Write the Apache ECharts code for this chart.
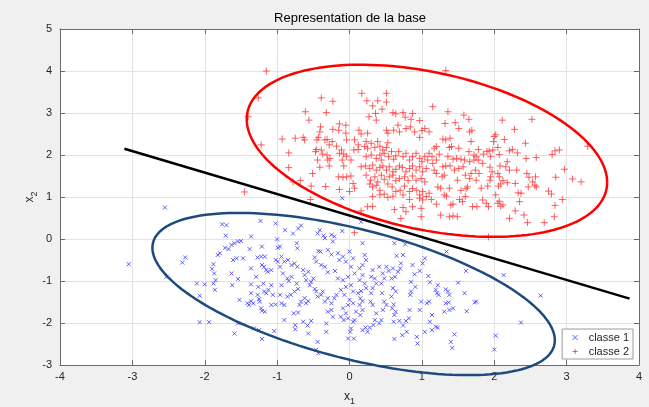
<!DOCTYPE html>
<html><head><meta charset="utf-8">
<script src="https://cdn.jsdelivr.net/npm/echarts@6/dist/echarts.min.js"></script>
<style>html,body{margin:0;padding:0;background:#f0f0f0}#c{width:649px;height:407px}</style>
</head><body><div id="c"></div>
<script>
const titleText = 'Representation de la base';
const legendNames = ['classe 1', 'classe 2'];
const xTicks = [-4, 4, 1];
const yTicks = [-3, 5, 1];

// classe 1 (blue x)
const class1 = [
[-2.55,0.75],[-3.05,-0.60],[-2.31,-0.56],[-2.27,-0.44],[-2.53,-0.90],[-2.11,-1.06],[-2.0,-1.08],[-2.07,-1.35],[-2.07,-1.98],[-1.94,-1.98],
[-1.86,-1.21],[-1.88,-1.06],[-1.85,-0.98],[-1.87,-0.82],[-1.90,-0.71],[-1.88,-0.60],[-1.82,-0.38],[-1.79,-0.34],[-1.72,-0.21],[-1.67,-0.24],
[-1.63,-0.14],[-1.59,-0.10],[-1.54,-0.06],[-1.50,-0.05],[-1.76,0.35],[-1.70,0.33],[-1.71,0.08],[-1.63,-0.82],[-1.61,-0.50],[-1.56,-0.46],
[-1.62,-1.10],[-1.54,-0.95],[-1.52,-1.45],[-1.54,-2.01],[-1.59,-2.25],[-1.47,-0.46],[-1.38,-0.24],[-1.36,0.06],[-1.36,-0.70],[-1.36,-1.08],
[-1.36,-1.29],[-1.33,-1.53],[-1.41,-1.53],[-1.39,-1.57],[-1.36,-1.48],[-1.29,-0.90],[-1.26,-1.14],[-1.27,-1.33],[-1.24,-1.49],[-1.22,-1.65],
[-1.25,-1.43],[-1.27,-0.44],[-1.22,-0.42],[-1.17,-0.42],[-1.21,-0.62],[-1.18,-0.66],[-1.15,-0.74],[-1.13,-0.78],[-1.08,-0.74],[-1.21,-0.18],
[-1.23,0.43],[-1.19,-1.06],[-1.18,-1.25],[-1.15,-1.29],[-1.12,-1.21],[-1.08,-1.10],[-1.06,-1.33],[-1.02,-1.56],[-1.08,-1.57],[-1.17,-1.73],
[-1.21,-1.71],[-1.32,-2.13],[-1.25,-2.17],[-1.21,-2.38],[-1.04,-2.19],[-1.02,0.37],[-1.00,-0.01],[-0.99,-0.21],[-0.96,-0.18],[-1.02,-0.50],
[-0.99,-0.54],[-0.96,-0.66],[-0.94,-0.42],[-0.90,-0.54],[-0.85,-0.50],[-0.80,-0.62],[-0.76,-0.58],[-0.72,-0.66],[-0.89,0.21],[-0.78,0.13],
[-0.67,0.32],[-0.73,-0.10],[-0.72,-0.22],[-0.92,-0.82],[-0.86,-0.94],[-0.84,-1.00],[-0.80,-0.90],[-0.73,-1.06],[-0.71,-1.19],[-0.76,-1.25],
[-0.81,-1.33],[-0.86,-1.37],[-0.94,-1.10],[-0.96,-1.33],[-0.94,-1.53],[-0.90,-1.57],[-0.90,-1.93],[-0.75,-2.05],[-0.75,-2.15],[-0.77,-1.77],
[-0.71,-1.75],[-0.69,-1.57],[-0.67,-1.49],[-0.62,-1.41],[-0.60,-1.53],[-0.57,-1.48],[-0.64,-0.74],[-0.62,-0.86],[-0.60,-0.98],[-0.57,-0.78],
[-0.55,-1.10],[-0.53,-1.02],[-0.50,-0.94],[-0.48,-1.19],[-0.46,-1.25],[-0.44,-1.37],[-0.39,-1.33],[-0.37,-1.25],[-0.34,-1.49],[-0.30,-1.41],
[-0.25,-1.53],[-0.21,-1.41],[-0.18,-1.33],[-0.64,-1.97],[-0.58,-2.06],[-0.57,-2.25],[-0.53,-1.95],[-0.44,0.13],[-0.41,0.21],[-0.36,0.08],
[-0.34,0.02],[-0.25,0.10],[-0.21,0.06],[-0.23,-0.06],[-0.43,-0.29],[-0.40,-0.30],[-0.30,-0.26],[-0.25,-0.37],[-0.16,-0.34],[-0.48,-0.44],
[-0.46,-0.54],[-0.39,-0.62],[-0.34,-0.66],[-0.30,-0.79],[-0.20,-0.76],[-0.16,-0.94],[-0.44,-2.45],[-0.46,-2.64],[-0.43,-2.72],[-0.32,-2.21],
[-0.32,-2.01],[-0.30,-1.73],[-0.25,-1.69],[-0.23,-1.85],[-0.71,0.25],
[-0.10,0.97],[0.16,0.41],[-0.10,0.19],[0.18,-0.10],[0.62,-0.10],[0.77,-0.13],[0.74,-0.38],[0.65,-0.40],[1.04,-0.46],[1.01,-0.58],
[1.34,-0.30],[1.61,-0.76],[2.13,-0.86],[2.64,-1.35],[2.37,-1.99],[2.02,-2.30],[2.00,-2.63],[1.73,-1.51],[1.75,-1.49],[1.62,-1.72],
[1.59,-1.29],[1.50,-1.04],[1.33,-1.20],[1.36,-1.25],[1.38,-1.33],[1.33,-1.53],[1.37,-1.51],[1.43,-1.65],[1.38,-1.69],[1.31,-1.73],
[1.22,-1.10],[1.21,-1.29],[1.23,-1.33],[1.19,-1.21],[1.09,-0.88],[1.11,-1.03],[1.10,-1.49],[1.07,-1.53],[0.99,-1.49],[0.97,-1.69],
[1.14,-1.81],[1.11,-1.97],[1.19,-2.09],[1.22,-2.11],[1.14,-2.17],[1.04,-2.21],[0.93,-2.33],[0.94,-2.49],[1.45,-2.27],[1.40,-2.45],
[1.42,-2.59],[0.97,-0.76],[0.90,-0.84],[0.87,-0.62],[0.85,-1.02],[0.85,-1.25],[0.91,-1.14],[0.84,-1.33],[0.83,-1.69],[0.82,-1.89],
[0.78,-1.95],[0.79,-2.21],[0.73,-2.29],[0.74,-2.06],[0.69,-1.95],[0.62,-2.38],[0.61,-1.97],[0.71,-0.58],[0.70,-0.70],[0.67,-0.78],
[0.63,-0.90],[0.60,-0.70],[0.58,-0.94],[0.60,-1.17],[0.64,-1.25],[0.58,-1.37],[0.61,-1.56],[0.59,-1.65],[0.64,-1.73],[0.62,-1.81],
[0.51,-0.66],[0.54,-0.76],[0.46,-0.82],[0.48,-0.94],[0.44,-1.06],[0.45,-1.29],[0.48,-1.49],[0.51,-1.57],[0.46,-1.69],[0.44,-1.93],
[0.41,-2.01],[0.41,-0.66],[0.32,-0.74],[0.30,-0.90],[0.35,-0.94],[0.37,-1.06],[0.32,-1.17],[0.30,-1.29],[0.29,-1.49],[0.32,-1.57],
[0.37,-1.77],[0.35,-1.93],[0.33,-2.05],[0.28,-2.11],[0.21,-0.38],[0.23,-0.50],[0.18,-0.62],[0.14,-0.70],[0.18,-0.86],[0.14,-0.98],
[0.21,-1.06],[0.23,-1.17],[0.16,-1.24],[0.12,-1.29],[0.15,-1.41],[0.18,-1.48],[0.14,-1.57],[0.18,-1.69],[0.09,-1.73],[0.15,-1.81],
[0.07,-1.93],[0.05,-1.97],[0.02,-2.13],[-0.02,-2.37],[0.01,-2.21],[0.06,-2.37],[0.18,-2.17],[0.22,-2.11],[0.25,-2.21],[0.00,-0.30],
[0.05,-0.46],[-0.05,-0.54],[-0.09,-0.42],[-0.14,-0.50],[0.02,-0.66],[0.07,-0.82],[-0.02,-0.90],[-0.09,-0.98],[-0.05,-1.14],[0.02,-1.10],
[0.05,-1.25],[-0.12,-1.21],[-0.07,-1.33],[0.00,-1.45],[-0.02,-1.57],[-0.09,-1.65],[0.05,-1.53],[-0.05,-1.77],[-0.12,-1.85],[-0.02,-1.89],
[-0.08,-1.93]
];

// classe 2 (red +)
const class2 = [
[-1.15,4.00],[-1.26,3.36],[-1.40,2.91],[-1.22,2.24],[-1.45,1.12],[-0.93,2.38],[-0.75,2.40],[-0.64,2.42],[-0.62,2.36],[-0.84,2.05],
[-0.84,1.70],[-0.78,1.36],[-0.68,1.39],[-0.51,1.56],[-0.53,1.26],[-0.33,1.25],[-0.54,0.94],[-0.61,3.03],[-0.56,2.83],[-0.32,3.01],
[-0.39,3.36],[-0.23,3.28],[-0.40,2.67],[-0.41,2.55],[-0.43,2.42],[-0.45,2.36],[-0.34,2.36],[-0.31,2.37],[-0.24,2.32],[-0.28,2.24],
[-0.46,2.13],[-0.47,2.08],[-0.39,2.12],[-0.37,2.02],[-0.31,2.00],[-0.27,1.92],[-0.44,1.88],[-0.30,1.88],[-0.28,1.74],[-0.41,1.71],
[-0.18,2.21],[-0.14,2.74],[-0.05,2.71],[-0.15,2.59],[-0.23,2.61],[-0.05,2.52],[-0.04,2.36],[-0.11,2.12],[-0.08,2.02],[-0.14,2.04],
[0.06,2.12],[0.12,2.13],[-0.04,1.97],[0.02,1.88],[-0.10,1.88],[-0.08,1.74],[-0.15,1.48],[-0.09,1.47],[-0.04,1.48],[0.02,1.50],
[-0.14,1.18],[0.00,1.13],[0.05,1.32],[0.07,1.21],[0.13,2.59],[0.16,2.50],[0.07,2.36],[0.12,2.24],[0.17,3.47],[0.51,3.47],
[0.24,3.29],[0.39,3.29],[0.51,3.26],[0.32,3.17],[0.45,3.09],[0.27,2.91],[0.37,2.83],[0.36,2.99],[0.60,3.01],[0.64,2.98],
[0.74,3.01],[0.87,2.99],[0.77,2.90],[0.85,2.85],[0.97,2.82],[0.51,2.59],[0.53,2.52],[0.61,2.59],[0.67,2.71],[0.69,2.55],
[0.78,2.63],[0.84,2.67],[0.90,2.55],[1.00,2.58],[0.97,2.42],[1.04,2.63],[0.25,2.52],[0.23,2.32],[0.21,2.20],[0.25,2.16],
[0.30,2.28],[0.35,2.18],[0.39,2.32],[0.42,2.21],[0.46,2.12],[0.51,2.18],[0.53,2.29],
[0.23,1.96],[0.30,2.00],[0.37,1.92],[0.42,2.00],[0.44,1.88],[0.48,2.04],[0.54,1.96],[0.58,2.08],[0.61,1.90],[0.64,1.98],
[0.68,2.08],[0.74,1.96],[0.78,2.04],[0.83,1.88],[0.87,1.96],[0.92,2.04],[0.97,1.92],[1.00,1.84],[1.04,1.96],[1.08,1.88],
[0.16,1.72],[0.22,1.74],[0.28,1.68],[0.32,1.76],[0.37,1.64],[0.42,1.70],[0.46,1.74],[0.51,1.64],[0.55,1.72],[0.60,1.60],
[0.64,1.66],[0.69,1.74],[0.73,1.70],[0.78,1.60],[0.83,1.68],[0.87,1.74],[0.92,1.64],[0.97,1.72],[1.01,1.60],[1.06,1.68],
[0.23,1.52],[0.29,1.40],[0.35,1.48],[0.39,1.36],[0.44,1.52],[0.48,1.42],[0.55,1.48],[0.60,1.52],[0.64,1.39],[0.69,1.44],
[0.76,1.48],[0.81,1.39],[0.87,1.50],[0.92,1.40],[0.99,1.44],[1.04,1.36],
[0.28,1.31],[0.32,1.24],[0.37,1.28],[0.42,1.16],[0.53,1.31],[0.59,1.24],[0.64,1.13],[0.70,1.16],[0.76,1.26],[0.83,1.13],
[0.87,1.20],[0.93,1.16],[0.97,1.05],[1.01,1.13],[1.06,1.01],[0.32,1.01],[0.42,1.05],[0.48,1.07],[0.53,0.99],[0.60,1.02],
[0.74,1.05],[0.83,0.94],[0.97,0.97],[1.01,0.93],[0.25,0.77],[0.32,0.78],[0.62,0.70],[0.74,0.75],[0.87,0.77],[0.99,0.73],
[0.71,0.49],[0.99,0.53],[0.78,0.65],[0.16,0.67],[0.07,0.15],
[1.33,4.01],[1.15,3.15],[1.36,3.03],[1.58,2.95],[1.65,2.85],[1.32,2.75],[1.46,2.77],[1.51,2.63],[1.69,2.59],[1.66,2.55],
[2.11,2.83],[2.52,2.85],[2.28,2.61],[1.10,2.55],[1.29,2.38],[1.33,2.36],[1.39,2.40],[1.41,2.20],[1.38,2.18],[1.20,2.20],
[1.17,2.16],[1.51,2.16],[1.65,2.08],[1.68,2.32],[1.78,2.13],[2.00,2.44],[2.02,2.48],[2.14,2.37],[1.99,2.32],[2.05,2.18],
[1.98,2.12],[2.21,2.10],[2.25,2.13],[2.32,2.05],[2.43,2.28],[2.07,2.01],[1.95,1.96],[1.93,2.10],[2.18,1.84],[2.08,1.74],
[2.44,1.92],[2.58,1.94],[2.80,2.01],[2.84,2.10],[2.90,2.12],[3.29,2.21],[2.97,1.66],[3.08,1.43],[3.20,1.36],[2.85,1.47],
[2.75,1.14],[2.79,1.07],[2.94,0.94],[2.84,0.80],[2.83,0.53],[2.69,0.39],[2.46,0.39],[2.21,0.49],[2.41,0.57],[2.29,0.67],
[2.35,0.89],[2.48,1.47],[2.57,1.48],[2.53,1.36],[2.58,1.24],[2.56,1.28],[2.47,1.24],[2.33,1.10],[2.37,1.09],[2.45,1.56],
[2.29,1.32],[2.18,1.34],[2.09,1.31],[2.12,1.39],[2.06,1.26],[2.02,1.05],[2.05,0.85],[2.09,0.78],[2.12,0.81],[2.07,0.90],
[1.84,0.93],[1.89,0.85],[1.92,0.77],[1.82,1.21],[1.91,1.26],[1.94,1.40],[1.95,1.48],[1.75,1.40],[1.79,1.56],[1.74,1.64],
[1.68,1.56],[1.66,1.44],[1.63,1.24],[1.61,1.20],[1.54,1.16],[1.60,1.01],[1.70,0.77],[1.76,0.77],[1.52,0.94],[1.56,0.89],
[1.40,0.81],[1.43,0.83],[1.38,0.53],[1.43,0.55],[1.49,0.53],[1.26,0.57],[1.20,0.83],[1.10,1.09],[1.13,0.94],[1.31,1.05],
[1.34,1.02],[1.22,1.24],[1.26,1.21],[1.38,1.21],[1.49,1.40],[1.31,1.52],[1.28,1.48],[1.15,1.80],[1.17,1.64],[1.20,1.56],
[1.29,1.72],[1.33,1.74],[1.39,1.74],[1.45,1.64],[1.51,1.68],[1.57,1.72],[1.60,1.52],[1.66,1.84],[1.72,1.88],[1.75,1.96],
[1.78,1.88],[1.72,2.00],[1.85,2.02],[1.90,2.08],[1.84,1.80],[1.94,1.71],[1.97,1.60],[2.05,1.56],[2.07,1.48],[2.21,1.64],
[2.16,1.72],[2.31,1.64],[1.10,2.04],[1.14,1.96],[1.20,1.88],[1.24,2.02],[1.36,1.96],[1.43,1.90],[1.48,1.92],[1.54,1.90],
[1.59,1.88],[1.92,0.05]
];

// decision boundary (black line), end points
const boundary = [[-3.11, 2.15], [3.87, -1.42]];

// ellipses: centre and covariance-like shape [Sxx, Sxy, Syy]
const ellipse1Center = [0.057, -1.31];
const ellipse1Shape = [7.73, -3.06, 3.73];
const ellipse2Center = [1.07, 2.10];
const ellipse2Shape = [6.2, -1.87, 4.2];

function ellipsePoints(c, s, n) {
  const l11 = Math.sqrt(s[0]);
  const l21 = s[1] / l11;
  const l22 = Math.sqrt(s[2] - l21 * l21);
  const pts = [];
  for (let i = 0; i <= n; i++) {
    const t = 2 * Math.PI * i / n;
    pts.push([c[0] + l11 * Math.cos(t), c[1] + l21 * Math.cos(t) + l22 * Math.sin(t)]);
  }
  return pts;
}

const chart = echarts.init(document.getElementById('c'));
const font = 'Liberation Sans, Arial, Helvetica, sans-serif';
const axisCol = '#6b6b6b';
const txtCol = '#262626';
const crossPath = 'path://M0,0L10,10M10,0L0,10';
const plusPath = 'path://M5,0L5,10M0,5L10,5';

chart.setOption({
  backgroundColor: '#f0f0f0',
  animation: false,
  textStyle: { fontFamily: font },
  title: {
    text: titleText, left: 350, textAlign: 'center', top: 12, padding: 0,
    textStyle: { fontSize: 13, fontWeight: 'normal', color: '#000', fontFamily: font }
  },
  grid: { left: 60, top: 29, width: 579, height: 336, show: true, backgroundColor: '#fff', borderWidth: 0, outerBoundsMode: 'none', containLabel: false },
  legend: {
    data: [
      { name: legendNames[0], icon: crossPath, itemStyle: { color: 'rgba(0,0,255,0)', borderColor: '#3a3aff', borderWidth: 1 } },
      { name: legendNames[1], icon: plusPath, itemStyle: { color: 'rgba(255,0,0,0)', borderColor: '#ff3030', borderWidth: 1 } }
    ],
    orient: 'vertical', right: 16, bottom: 48,
    itemWidth: 5, itemHeight: 5, itemGap: 3,
    padding: [3, 4, 2, 10],
    backgroundColor: '#fff', borderColor: '#9a9a9a', borderWidth: 1, borderRadius: 0,
    textStyle: { fontSize: 11, color: txtCol, fontFamily: font, padding: [0, 0, 0, 6] }
  },
  xAxis: [{
    type: 'value', min: xTicks[0], max: xTicks[1], interval: xTicks[2],
    name: '{a|x}{b|1}', nameLocation: 'middle', nameGap: 23, nameMoveOverlap: false,
    nameTextStyle: { rich: { a: { fontSize: 12, color: txtCol, fontFamily: font }, b: { fontSize: 9, color: txtCol, fontFamily: font, padding: [9, 0, 0, 0] } } },
    axisLine: { show: true, onZero: false, lineStyle: { color: axisCol, width: 1 } },
    axisTick: { show: true, inside: true, length: 5, lineStyle: { color: axisCol } },
    axisLabel: { fontSize: 11, color: txtCol, margin: 6, fontFamily: font },
    splitLine: { show: true, lineStyle: { color: '#e3e3e3', width: 1 } }
  }, {
    type: 'value', position: 'top', min: xTicks[0], max: xTicks[1], interval: xTicks[2],
    axisLine: { show: true, onZero: false, lineStyle: { color: axisCol, width: 1 } },
    axisTick: { show: true, inside: true, length: 5, lineStyle: { color: axisCol } },
    axisLabel: { show: false }, splitLine: { show: false }
  }],
  yAxis: [{
    type: 'value', min: yTicks[0], max: yTicks[1], interval: yTicks[2],
    name: '{a|x}{b|2}', nameLocation: 'middle', nameGap: 21, nameRotate: 90, nameMoveOverlap: false,
    nameTextStyle: { rich: { a: { fontSize: 12, color: txtCol, fontFamily: font }, b: { fontSize: 9, color: txtCol, fontFamily: font, padding: [9, 0, 0, 0] } } },
    axisLine: { show: true, onZero: false, lineStyle: { color: axisCol, width: 1 } },
    axisTick: { show: true, inside: true, length: 5, lineStyle: { color: axisCol } },
    axisLabel: { fontSize: 11, color: txtCol, margin: 8, fontFamily: font },
    splitLine: { show: true, lineStyle: { color: '#e3e3e3', width: 1 } }
  }, {
    type: 'value', position: 'right', min: yTicks[0], max: yTicks[1], interval: yTicks[2],
    axisLine: { show: true, onZero: false, lineStyle: { color: axisCol, width: 1 } },
    axisTick: { show: true, inside: true, length: 5, lineStyle: { color: axisCol } },
    axisLabel: { show: false }, splitLine: { show: false }
  }],
  series: [
    {
      name: legendNames[0], type: 'scatter', data: class1, symbol: crossPath, symbolSize: 4,
      itemStyle: { color: 'rgba(0,0,255,0)', borderColor: '#3a3aff', borderWidth: 1 }
    },
    {
      name: legendNames[1], type: 'scatter', data: class2, symbol: plusPath, symbolSize: 7,
      itemStyle: { color: 'rgba(255,0,0,0)', borderColor: '#ff3a3a', borderWidth: 1 }
    },
    {
      type: 'line', data: boundary, showSymbol: false, symbol: 'none', clip: false,
      lineStyle: { color: '#000', width: 2.5 }, silent: true
    },
    {
      type: 'line', data: ellipsePoints(ellipse1Center, ellipse1Shape, 160), showSymbol: false, symbol: 'none', clip: false,
      lineStyle: { color: '#1f4a7d', width: 2.5 }, silent: true
    },
    {
      type: 'line', data: ellipsePoints(ellipse2Center, ellipse2Shape, 160), showSymbol: false, symbol: 'none', clip: false,
      lineStyle: { color: '#ff0000', width: 2.5 }, silent: true
    }
  ]
});
</script>
</body></html>
